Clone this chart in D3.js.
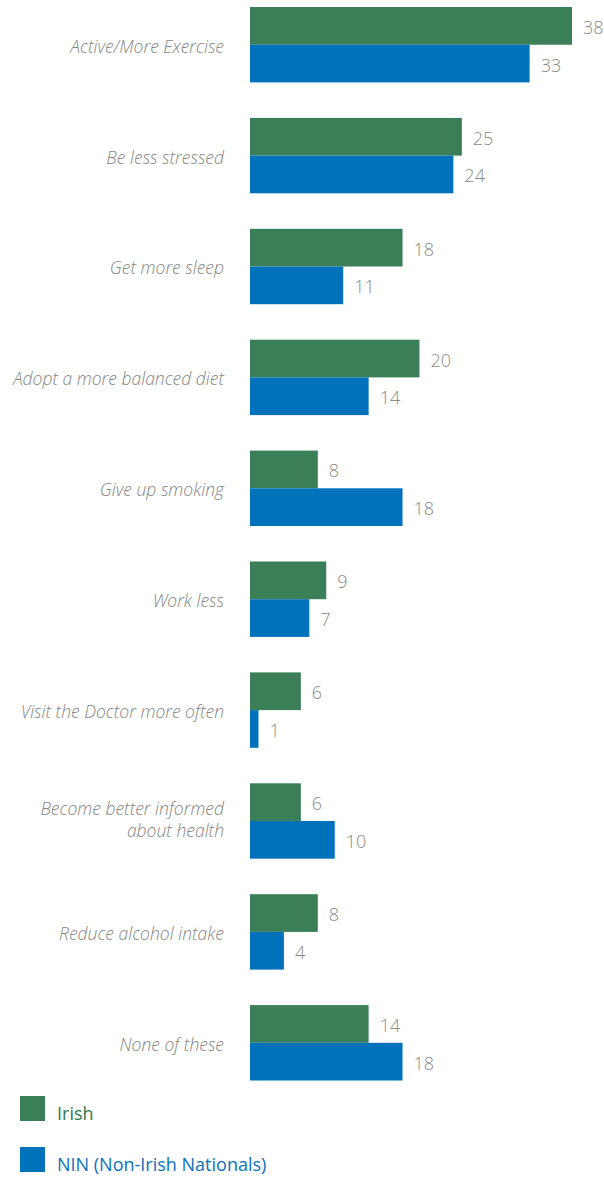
<!DOCTYPE html>
<html><head><meta charset="utf-8">
<script src="https://cdn.jsdelivr.net/npm/d3@7"></script>
<style>body{margin:0;background:#fff;}</style>
</head><body>
<script>
const categories = [["Active/More Exercise"],["Be less stressed"],["Get more sleep"],["Adopt a more balanced diet"],["Give up smoking"],["Work less"],["Visit the Doctor more often"],["Become better informed","about health"],["Reduce alcohol intake"],["None of these"]];
const irish = [38,25,18,20,8,9,6,6,8,14];
const nin = [33,24,11,14,18,7,1,10,4,18];
const seriesNames = ["Irish","NIN (Non-Irish Nationals)"];
const colors = ["#3a7f57","#0072bc"];
const textColors = ["#2f7a4c","#0b72bc"];

const W=604,H=1178;
const svg=d3.select("body").append("svg").attr("width",W).attr("height",H);
const x=d3.scaleLinear().domain([0,38]).range([250,572]);
const step=110.9, bh=37.7;
const y=d3.scaleBand().domain(d3.range(categories.length)).range([7,7+step*9+2*bh]).paddingInner(1-2*bh/step).paddingOuter(0).align(0);
const font="'Open Sans', 'Segoe UI', sans-serif";

const g=svg.selectAll("g.grp").data(categories).join("g").attr("transform",(d,i)=>`translate(0,${y(i)})`);
[irish,nin].forEach((arr,s)=>{
  g.append("rect").attr("x",x(0)).attr("y",s*bh).attr("height",bh)
   .attr("width",(d,i)=>x(arr[i])-x(0)).attr("fill",colors[s]);
  g.append("text").attr("x",(d,i)=>x(arr[i])+11).attr("y",s*bh+bh/2+8)
   .text((d,i)=>arr[i]).attr("font-family",font).attr("font-weight",300)
   .attr("font-size",18).attr("fill","#8a8a8a");
});
g.each(function(d){
  const t=d3.select(this).append("text").attr("text-anchor","end").attr("font-family",font)
   .attr("font-style","italic").attr("font-weight",300).attr("font-size",17.5).attr("fill","#858585");
  const n=d.length;
  if(n===1){
    t.append("tspan").attr("x",224).attr("y",bh+8).text(d[0]);
  } else {
    d.forEach((line,k)=>{
      t.append("tspan").attr("x",224).attr("y",bh+5+(k-(n-1)/2)*22).text(line);
    });
  }
});
const leg=svg.selectAll("g.leg").data(seriesNames).join("g").attr("transform",(d,i)=>`translate(20,${1096+i*51})`);
leg.append("rect").attr("width",25).attr("height",25).attr("fill",(d,i)=>colors[i]);
leg.append("text").attr("x",37).attr("y",24).text(d=>d).attr("font-family",font)
  .attr("font-size",18).attr("font-weight",500).attr("fill",(d,i)=>textColors[i]);
</script>
</body></html>
